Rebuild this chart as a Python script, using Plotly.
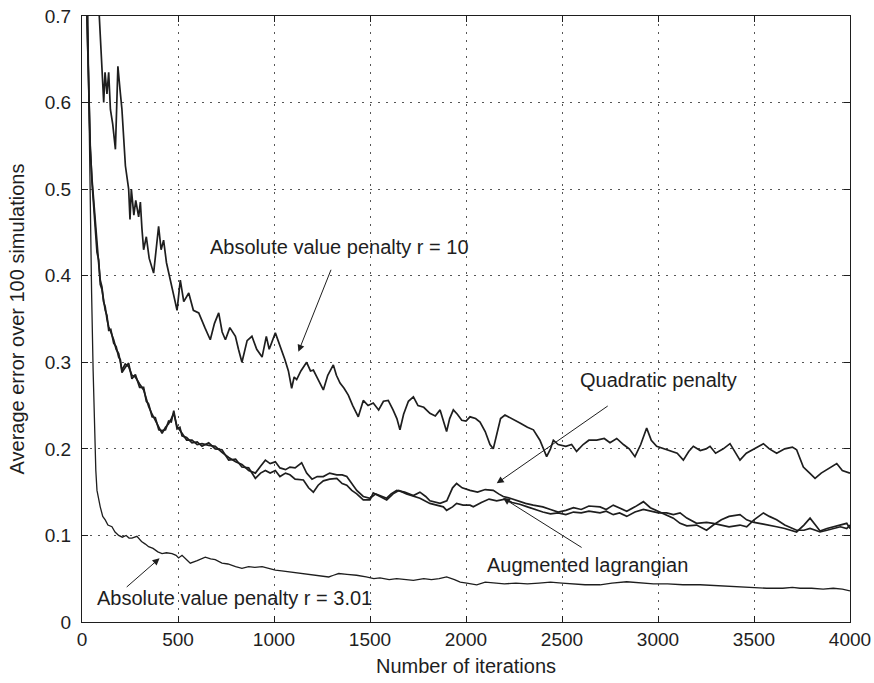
import plotly.graph_objects as go

# ---- data ----
abs10_x = [80, 90, 99, 106, 113, 120, 130, 139, 148, 160, 174, 180, 187, 198, 208, 226, 243, 250, 257, 270,
           280, 295, 304, 312, 321, 335, 350, 373, 390, 399, 412, 425, 440, 451, 469, 485, 495, 512, 530, 556,
           580, 608, 640, 668, 690, 712, 730, 747, 770, 799, 815, 833, 860, 885, 910, 938, 960, 975, 1007, 1030,
           1057, 1075, 1092, 1105, 1118, 1140, 1170, 1190, 1205, 1230, 1257, 1280, 1309, 1325, 1344, 1365, 1387, 1410, 1439, 1465,
           1490, 1517, 1545, 1570, 1595, 1620, 1640, 1656, 1675, 1700, 1726, 1750, 1780, 1812, 1840, 1865, 1899, 1915, 1934, 1955,
           1978, 2000, 2021, 2050, 2073, 2100, 2125, 2142, 2160, 2180, 2203, 2240, 2281, 2320, 2351, 2385, 2420, 2440, 2455, 2480,
           2520, 2550, 2576, 2610, 2640, 2681, 2720, 2750, 2785, 2820, 2850, 2880, 2910, 2941, 2965, 2993, 3030, 3060, 3100, 3132,
           3160, 3184, 3220, 3250, 3271, 3300, 3340, 3375, 3400, 3427, 3460, 3500, 3549, 3580, 3618, 3660, 3700, 3722, 3740, 3757,
           3790, 3818, 3850, 3879, 3910, 3931, 3960, 4000]
abs10_y = [0.73, 0.70, 0.661, 0.63, 0.60, 0.635, 0.61, 0.635, 0.592, 0.575, 0.546, 0.59, 0.642, 0.615, 0.592, 0.527, 0.50, 0.465, 0.50, 0.47,
           0.487, 0.468, 0.485, 0.455, 0.43, 0.445, 0.42, 0.403, 0.44, 0.457, 0.43, 0.441, 0.415, 0.403, 0.387, 0.37, 0.36, 0.395, 0.37, 0.38,
           0.36, 0.357, 0.34, 0.326, 0.345, 0.357, 0.335, 0.326, 0.34, 0.33, 0.315, 0.30, 0.325, 0.33, 0.315, 0.306, 0.33, 0.315, 0.334, 0.32,
           0.303, 0.29, 0.27, 0.283, 0.28, 0.29, 0.30, 0.29, 0.291, 0.28, 0.268, 0.285, 0.297, 0.285, 0.276, 0.27, 0.262, 0.25, 0.237, 0.256,
           0.25, 0.253, 0.245, 0.255, 0.256, 0.245, 0.235, 0.222, 0.24, 0.255, 0.26, 0.25, 0.248, 0.241, 0.238, 0.245, 0.22, 0.235, 0.245, 0.24,
           0.233, 0.232, 0.237, 0.235, 0.231, 0.22, 0.205, 0.20, 0.215, 0.235, 0.239, 0.235, 0.23, 0.225, 0.222, 0.21, 0.191, 0.20, 0.21, 0.205,
           0.203, 0.205, 0.197, 0.205, 0.21, 0.21, 0.212, 0.207, 0.212, 0.205, 0.20, 0.191, 0.205, 0.224, 0.21, 0.203, 0.20, 0.198, 0.195, 0.187,
           0.197, 0.203, 0.198, 0.20, 0.203, 0.195, 0.20, 0.206, 0.197, 0.187, 0.195, 0.20, 0.206, 0.20, 0.195, 0.20, 0.202, 0.199, 0.188, 0.179,
           0.172, 0.166, 0.172, 0.176, 0.18, 0.183, 0.175, 0.172]

quad_x = [20, 26, 35, 43, 52, 60, 69, 78, 87, 95, 104, 112, 121, 130, 139, 150, 165, 178, 191, 200,
          208, 225, 243, 260, 278, 300, 321, 335, 347, 365, 382, 400, 417, 435, 451, 465, 478, 495, 510, 521,
          545, 573, 600, 625, 660, 694, 729, 764, 800, 833, 868, 903, 930, 955, 980, 1007, 1031, 1060, 1083, 1110,
          1144, 1170, 1198, 1225, 1257, 1290, 1327, 1355, 1379, 1405, 1431, 1465, 1500, 1530, 1560, 1587, 1610, 1639, 1680, 1726,
          1760, 1790, 1812, 1840, 1865, 1900, 1930, 1951, 1980, 2021, 2060, 2100, 2142, 2170, 2194, 2230, 2270, 2310, 2350, 2400,
          2440, 2480, 2520, 2560, 2600, 2640, 2698, 2730, 2767, 2800, 2837, 2880, 2924, 2960, 3002, 3045, 3080, 3115, 3150, 3201,
          3253, 3288, 3330, 3370, 3427, 3462, 3500, 3549, 3580, 3618, 3660, 3722, 3760, 3792, 3820, 3844, 3880, 3913, 3950, 3983,
          4000]
quad_y = [0.75, 0.70, 0.623, 0.546, 0.512, 0.49, 0.455, 0.431, 0.414, 0.395, 0.387, 0.37, 0.364, 0.35, 0.341, 0.335, 0.326, 0.315, 0.31, 0.30,
          0.291, 0.298, 0.295, 0.285, 0.283, 0.275, 0.268, 0.258, 0.249, 0.24, 0.233, 0.225, 0.218, 0.225, 0.229, 0.235, 0.241, 0.226, 0.222, 0.218,
          0.21, 0.21, 0.205, 0.206, 0.204, 0.203, 0.196, 0.19, 0.185, 0.182, 0.175, 0.172, 0.18, 0.187, 0.183, 0.185, 0.178, 0.176, 0.179, 0.178,
          0.184, 0.172, 0.165, 0.168, 0.168, 0.172, 0.17, 0.17, 0.168, 0.16, 0.152, 0.145, 0.143, 0.148, 0.145, 0.143, 0.148, 0.152, 0.15, 0.146,
          0.15, 0.145, 0.14, 0.138, 0.137, 0.14, 0.155, 0.16, 0.155, 0.152, 0.15, 0.153, 0.152, 0.148, 0.145, 0.143, 0.14, 0.137, 0.135, 0.133,
          0.13, 0.127, 0.129, 0.132, 0.13, 0.134, 0.133, 0.13, 0.135, 0.132, 0.128, 0.133, 0.139, 0.132, 0.128, 0.124, 0.12, 0.114, 0.111, 0.112,
          0.106, 0.112, 0.118, 0.122, 0.124, 0.118, 0.115, 0.113, 0.112, 0.11, 0.108, 0.104, 0.112, 0.12, 0.112, 0.105, 0.108, 0.11, 0.112, 0.114,
          0.108]

aug_x = [20, 26, 35, 43, 52, 60, 69, 78, 87, 95, 104, 112, 121, 130, 139, 150, 165, 178, 191, 200,
         208, 225, 243, 260, 278, 300, 321, 335, 347, 365, 382, 400, 417, 435, 451, 465, 478, 495, 510, 521,
         545, 573, 600, 625, 660, 694, 729, 764, 800, 833, 868, 903, 930, 955, 980, 1007, 1031, 1060, 1083, 1110,
         1153, 1180, 1205, 1230, 1257, 1290, 1327, 1355, 1379, 1405, 1431, 1465, 1500, 1517, 1550, 1587, 1620, 1650, 1690, 1726,
         1760, 1812, 1850, 1882, 1899, 1930, 1951, 1985, 2021, 2038, 2080, 2120, 2160, 2203, 2240, 2280, 2320, 2360, 2400, 2440,
         2480, 2520, 2560, 2600, 2640, 2698, 2730, 2767, 2800, 2837, 2880, 2924, 2960, 3002, 3045, 3080, 3115, 3150, 3201, 3253,
         3288, 3330, 3370, 3427, 3462, 3500, 3549, 3580, 3618, 3660, 3722, 3760, 3792, 3820, 3844, 3880, 3913, 3950, 3983, 4000]
aug_y = [0.75, 0.70, 0.628, 0.55, 0.508, 0.486, 0.46, 0.427, 0.418, 0.39, 0.384, 0.374, 0.36, 0.354, 0.337, 0.338, 0.322, 0.318, 0.306, 0.303,
         0.288, 0.294, 0.299, 0.281, 0.286, 0.271, 0.271, 0.255, 0.252, 0.237, 0.236, 0.222, 0.221, 0.222, 0.232, 0.231, 0.244, 0.223, 0.225, 0.215,
         0.213, 0.207, 0.208, 0.203, 0.207, 0.2, 0.199, 0.187, 0.188, 0.179, 0.178, 0.166, 0.172, 0.175, 0.172, 0.175, 0.168, 0.172, 0.17, 0.165,
         0.164, 0.155, 0.15, 0.158, 0.163, 0.165, 0.166, 0.16, 0.158, 0.152, 0.148, 0.141, 0.141, 0.149, 0.145, 0.141, 0.148, 0.152, 0.148, 0.145,
         0.143, 0.137, 0.135, 0.133, 0.129, 0.133, 0.137, 0.135, 0.135, 0.133, 0.138, 0.142, 0.14, 0.142, 0.138, 0.136, 0.133, 0.13, 0.127, 0.125,
         0.126, 0.124, 0.127, 0.126, 0.128, 0.126, 0.128, 0.124, 0.126, 0.122, 0.127, 0.13, 0.128, 0.126, 0.126, 0.124, 0.126, 0.12, 0.114, 0.115,
         0.114, 0.112, 0.11, 0.112, 0.11, 0.118, 0.126, 0.122, 0.118, 0.112, 0.106, 0.106, 0.108, 0.106, 0.104, 0.106, 0.108, 0.11, 0.108, 0.112]

abs301_x = [25, 31, 36, 43, 50, 58, 66, 72, 78, 87, 95, 108, 121, 135, 156, 172, 191, 210, 230, 245,
            260, 286, 310, 330, 347, 370, 395, 417, 440, 469, 490, 503, 521, 545, 564, 600, 642, 670, 694, 729,
            760, 800, 833, 868, 900, 938, 970, 1007, 1040, 1076, 1110, 1146, 1180, 1215, 1250, 1285, 1310, 1337, 1380, 1430,
            1480, 1520, 1552, 1600, 1639, 1680, 1726, 1780, 1820, 1860, 1899, 1940, 1970, 2004, 2030, 2056, 2100, 2150, 2200, 2260,
            2320, 2380, 2440, 2500, 2560, 2620, 2698, 2760, 2837, 2900, 2976, 3050, 3130, 3219, 3300, 3392, 3480, 3566, 3650, 3700,
            3740, 3800, 3860, 3913, 3960, 4000]
abs301_y = [0.75, 0.70, 0.60, 0.464, 0.38, 0.29, 0.21, 0.175, 0.152, 0.14, 0.133, 0.122, 0.118, 0.112, 0.11, 0.104, 0.10, 0.098, 0.10, 0.097,
            0.097, 0.099, 0.093, 0.09, 0.087, 0.085, 0.081, 0.079, 0.08, 0.079, 0.077, 0.074, 0.077, 0.072, 0.068, 0.071, 0.075, 0.073, 0.072, 0.068,
            0.067, 0.064, 0.062, 0.064, 0.063, 0.064, 0.062, 0.06, 0.059, 0.058, 0.057, 0.056, 0.055, 0.054, 0.053, 0.052, 0.054, 0.056, 0.055, 0.054,
            0.052, 0.05, 0.051, 0.049, 0.05, 0.049, 0.048, 0.05, 0.049, 0.05, 0.052, 0.049, 0.046, 0.045, 0.044, 0.043, 0.046, 0.045, 0.044, 0.045,
            0.044, 0.045, 0.046, 0.045, 0.044, 0.043, 0.043, 0.045, 0.0465, 0.045, 0.044, 0.044, 0.043, 0.043, 0.042, 0.041, 0.04, 0.039, 0.039, 0.04,
            0.039, 0.039, 0.038, 0.039, 0.038, 0.036]

x_ticks = [0, 500, 1000, 1500, 2000, 2500, 3000, 3500, 4000]
y_ticks = [0, 0.1, 0.2, 0.3, 0.4, 0.5, 0.6, 0.7]
y_tick_labels = ["0", "0.1", "0.2", "0.3", "0.4", "0.5", "0.6", "0.7"]

FONT = "Liberation Sans, Arial, Helvetica, sans-serif"
INK = "#1e1e1e"

fig = go.Figure()
line_style = dict(color=INK, width=1.7)
for name, xs, ys in [("Absolute value penalty r = 10", abs10_x, abs10_y),
                     ("Quadratic penalty", quad_x, quad_y),
                     ("Augmented lagrangian", aug_x, aug_y),
                     ("Absolute value penalty r = 3.01", abs301_x, abs301_y)]:
    w = dict(line_style)
    if name.endswith("3.01"):
        w["width"] = 1.3
    fig.add_trace(go.Scatter(x=xs, y=ys, mode="lines", name=name, line=w,
                             showlegend=False, hoverinfo="skip"))

# labels
labels = [
    ("Absolute value penalty r = 10", 656, 0.4335),
    ("Quadratic penalty", 2583, 0.2795),
    ("Augmented lagrangian", 2100, 0.0658),
    ("Absolute value penalty r = 3.01", 68, 0.0277),
]
for txt, lx, ly in labels:
    fig.add_annotation(x=lx, y=ly, xref="x", yref="y", text=txt, showarrow=False,
                       xanchor="left", yanchor="middle",
                       font=dict(family=FONT, size=20, color=INK))

# arrows (tail -> tip)
arrows = [
    ((1300, 0.4086), (1127, 0.3122)),
    ((2746, 0.2507), (2160, 0.1602)),
    ((2610, 0.0850), (2193, 0.1432)),
    ((225, 0.0389), (404, 0.0736)),
]
for (tx, ty), (hx, hy) in arrows:
    fig.add_annotation(x=hx, y=hy, ax=tx, ay=ty, xref="x", yref="y", axref="x", ayref="y",
                       text="", showarrow=True, arrowhead=2, arrowsize=1.4, arrowwidth=1,
                       arrowcolor=INK, standoff=0)

axis_common = dict(
    showline=True, linecolor=INK, linewidth=1.2, mirror="ticks",
    ticks="inside", ticklen=6, tickcolor=INK, tickwidth=1,
    showgrid=True, gridcolor="#555555", gridwidth=1, griddash="2px,6px",
    zeroline=False,
    tickfont=dict(family=FONT, size=19, color=INK),
)

fig.update_xaxes(range=[0, 4000], tickvals=x_ticks, ticktext=[str(v) for v in x_ticks],
                 title=dict(text="Number of iterations", font=dict(family=FONT, size=20, color=INK), standoff=10),
                 **axis_common)
fig.update_yaxes(range=[0, 0.7], tickvals=y_ticks, ticktext=y_tick_labels,
                 title=dict(text="Average error over 100 simulations", font=dict(family=FONT, size=20, color=INK), standoff=14),
                 ticklabelstandoff=6,
                 **axis_common)

fig.update_layout(
    width=874, height=683,
    margin=dict(l=82, r=24, t=16, b=61, autoexpand=False),
    paper_bgcolor="white", plot_bgcolor="white",
    font=dict(family=FONT, color=INK),
)

fig.write_html("out.html", config={"displayModeBar": False},
               post_script="document.body.style.margin='0';document.body.style.padding='0';")
